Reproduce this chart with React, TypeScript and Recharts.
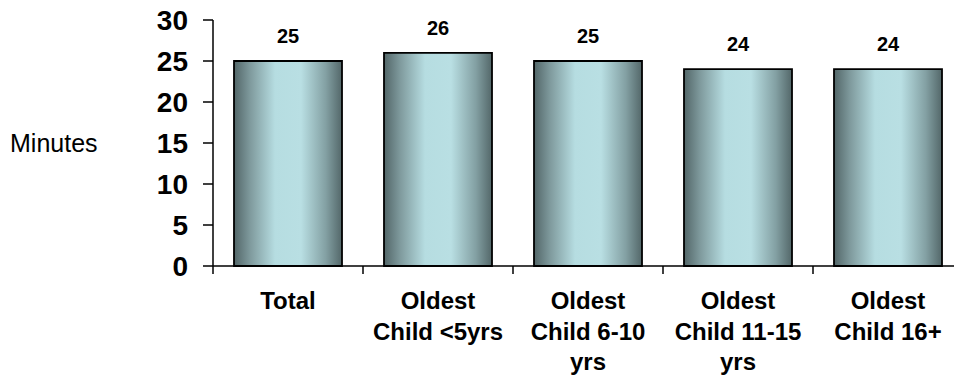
import { BarChart, Bar, XAxis, YAxis, LabelList } from "recharts";

const categories = [
  "Total",
  "Oldest\nChild <5yrs",
  "Oldest\nChild 6-10\nyrs",
  "Oldest\nChild 11-15\nyrs",
  "Oldest\nChild 16+",
];
const minutes = [25, 26, 25, 24, 24];
const yTicks = [0, 5, 10, 15, 20, 25, 30];

const data = categories.map((name, i) => ({ name, minutes: minutes[i] }));

const FONT = "'Liberation Sans', Arial, sans-serif";
const X_TICK_SIZE = 8;
const X_TICK_MARGIN = 14;

// category label under each bar, plus a tick mark on the left edge of its band
function CategoryTick(props: any) {
  const { x, y, payload } = props;
  const half = payload?.offset ?? 75;
  const axisY = y - X_TICK_SIZE - X_TICK_MARGIN;
  const lines = String(payload.value).split("\n");
  return (
    <g>
      <line x1={x - half} y1={axisY} x2={x - half} y2={axisY + X_TICK_SIZE} stroke="#000" strokeWidth={1.5} />
      <text x={x} y={y} textAnchor="middle" fontFamily={FONT} fontWeight="bold" fontSize={24} fill="#000">
        {lines.map((line, i) => (
          <tspan key={i} x={x} dy={i === 0 ? 21 : 30.5}>
            {line}
          </tspan>
        ))}
      </text>
    </g>
  );
}

export default function App() {
  return (
    <div style={{ position: "absolute", left: 0, top: 0, width: 954, height: 379, overflow: "hidden", background: "#fff" }}>
      <BarChart
        width={970}
        height={379}
        data={data}
        margin={{ top: 20, right: 7, bottom: 0, left: 0 }}
        barCategoryGap="14%"
      >
        <defs>
          <linearGradient id="barShade" x1="0" y1="0" x2="1" y2="0">
            <stop offset="0%" stopColor="#526668" />
            <stop offset="15%" stopColor="#7f9a9d" />
            <stop offset="38%" stopColor="#b6dde1" />
            <stop offset="62%" stopColor="#b9dfe3" />
            <stop offset="85%" stopColor="#83a0a3" />
            <stop offset="100%" stopColor="#536769" />
          </linearGradient>
        </defs>
        <XAxis
          dataKey="name"
          height={113}
          interval={0}
          axisLine={{ stroke: "#000", strokeWidth: 1.5 }}
          tickLine={false}
          tickSize={X_TICK_SIZE}
          tickMargin={X_TICK_MARGIN}
          tick={<CategoryTick />}
        />
        <YAxis
          width={213}
          domain={[0, 30]}
          ticks={yTicks}
          interval={0}
          axisLine={{ stroke: "#000", strokeWidth: 1.5 }}
          tickLine={{ stroke: "#000", strokeWidth: 1.5 }}
          tickSize={10}
          tickMargin={15}
          tick={{ fontFamily: FONT, fontWeight: "bold", fontSize: 28, fill: "#000" }}
          label={{
            value: "Minutes",
            position: "insideLeft",
            offset: 10,
            style: { fontFamily: FONT, fontSize: 25, fill: "#000", textAnchor: "start" },
          }}
        />
        <Bar dataKey="minutes" fill="url(#barShade)" stroke="#000" strokeWidth={1.8} isAnimationActive={false}>
          <LabelList
            dataKey="minutes"
            position="top"
            offset={18}
            style={{ fontFamily: FONT, fontWeight: "bold", fontSize: 20, fill: "#000" }}
          />
        </Bar>
      </BarChart>
    </div>
  );
}
